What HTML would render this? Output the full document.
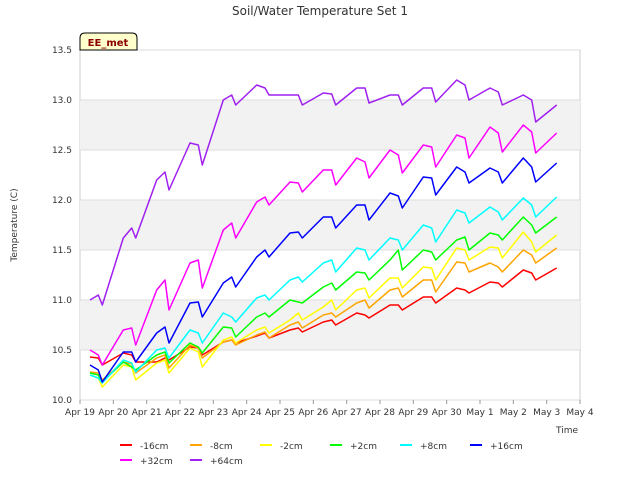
<!DOCTYPE html>
<html><head><meta charset="utf-8"><style>
body{margin:0;background:#fff;}
svg{display:block;font-family:"DejaVu Sans","Liberation Sans",sans-serif;}
</style></head><body>
<svg id="chart" width="640" height="480" viewBox="0 0 640 480" xmlns="http://www.w3.org/2000/svg">
<rect width="640" height="480" fill="#fff"/>
<text x="320" y="15" text-anchor="middle" font-size="12" fill="#333">Soil/Water Temperature Set 1</text>
<g id="plot"></g>
<text x="17" y="225" text-anchor="middle" font-size="9" fill="#333" transform="rotate(-90 17 225)">Temperature (C)</text>
<text x="578" y="433" text-anchor="end" font-size="9" fill="#333">Time</text>
<g>
<path d="M80,50 L80,38 Q80,33 85,33 L132,33 Q137,33 137,38 L137,50 Z" fill="#ffffcc" stroke="#000" stroke-width="1"/>
<text x="108" y="46" text-anchor="middle" font-size="10" font-weight="bold" fill="#8b0000">EE_met</text>
</g>
<g id="legend"></g>
</svg>
<script>
const t = [0.3,0.55,0.67, 1.3,1.55,1.67, 2.3,2.55,2.67, 3.3,3.55,3.67, 4.3,4.55,4.67, 5.3,5.55,5.67, 6.3,6.55,6.67, 7.3,7.55,7.67, 8.3,8.55,8.67, 9.3,9.55,9.67, 10.3,10.55,10.67, 11.3,11.55,11.67, 12.3,12.55,12.67, 13.3,13.55,13.67, 14.3];
const seriesNames = ["-16cm","-8cm","-2cm","+2cm","+8cm","+16cm","+32cm","+64cm"];
const seriesColors = ["#ff0000","#ffa500","#ffff00","#00ff00","#00ffff","#0000ff","#ff00ff","#a020f0"];
const s16 = [10.43,10.42,10.35, 10.47,10.45,10.38, 10.38,10.42,10.4, 10.53,10.52,10.45, 10.58,10.6,10.57, 10.64,10.67,10.62, 10.7,10.72,10.68, 10.78,10.8,10.75, 10.87,10.85,10.82, 10.95,10.95,10.9, 11.03,11.03,10.97, 11.12,11.1,11.07, 11.18,11.17,11.13, 11.3,11.27,11.2, 11.32];
const s8 = [10.28,10.27,10.2, 10.38,10.36,10.27, 10.42,10.45,10.32, 10.55,10.52,10.42, 10.58,10.6,10.55, 10.65,10.68,10.62, 10.75,10.78,10.72, 10.85,10.87,10.83, 10.97,11.0,10.92, 11.1,11.12,11.03, 11.2,11.2,11.08, 11.38,11.37,11.28, 11.37,11.33,11.28, 11.5,11.45,11.37, 11.52];
const s2n = [10.25,10.22,10.13, 10.35,10.33,10.2, 10.37,10.4,10.27, 10.52,10.48,10.33, 10.6,10.63,10.57, 10.7,10.73,10.67, 10.8,10.87,10.8, 10.93,11.0,10.9, 11.1,11.12,11.02, 11.22,11.22,11.12, 11.33,11.32,11.2, 11.52,11.5,11.4, 11.53,11.52,11.42, 11.68,11.58,11.48, 11.65];
const s2p = [10.27,10.25,10.18, 10.38,10.33,10.3, 10.45,10.48,10.37, 10.57,10.53,10.47, 10.73,10.72,10.63, 10.83,10.87,10.83, 11.0,10.98,10.97, 11.13,11.17,11.1, 11.28,11.27,11.2, 11.4,11.5,11.3, 11.5,11.48,11.4, 11.6,11.63,11.5, 11.67,11.65,11.6, 11.83,11.75,11.67, 11.83];
const s8p = [10.25,10.22,10.17, 10.4,10.37,10.28, 10.5,10.52,10.42, 10.7,10.67,10.57, 10.87,10.83,10.78, 11.02,11.05,11.0, 11.2,11.23,11.18, 11.37,11.4,11.28, 11.52,11.5,11.4, 11.62,11.6,11.5, 11.75,11.72,11.58, 11.9,11.87,11.77, 11.93,11.88,11.8, 12.02,11.95,11.83, 12.03];
const s16p = [10.35,10.3,10.18, 10.48,10.48,10.38, 10.67,10.73,10.57, 10.97,10.98,10.83, 11.17,11.23,11.13, 11.43,11.5,11.43, 11.67,11.68,11.62, 11.83,11.83,11.72, 11.95,11.95,11.8, 12.07,12.04,11.92, 12.23,12.22,12.05, 12.33,12.28,12.17, 12.32,12.28,12.17, 12.42,12.33,12.18, 12.37];
const s32 = [10.5,10.45,10.35, 10.7,10.72,10.55, 11.1,11.2,10.9, 11.37,11.4,11.12, 11.7,11.77,11.62, 11.98,12.03,11.95, 12.18,12.17,12.08, 12.3,12.3,12.15, 12.42,12.38,12.22, 12.5,12.45,12.27, 12.55,12.53,12.33, 12.65,12.62,12.42, 12.73,12.67,12.48, 12.75,12.68,12.47, 12.67];
const s64 = [11.0,11.05,10.95, 11.62,11.72,11.62, 12.2,12.28,12.1, 12.57,12.55,12.35, 13.0,13.05,12.95, 13.15,13.12,13.05, 13.05,13.05,12.95, 13.07,13.06,12.95, 13.12,13.12,12.97, 13.05,13.05,12.95, 13.12,13.12,12.98, 13.2,13.15,13.0, 13.12,13.08,12.95, 13.05,13.0,12.78, 12.95];
const seriesValues = [s16,s8,s2n,s2p,s8p,s16p,s32,s64];
const yTicks = [10.0,10.5,11.0,11.5,12.0,12.5,13.0,13.5];
const yTickLabels = ["10.0","10.5","11.0","11.5","12.0","12.5","13.0","13.5"];
const xTickLabels = ["Apr 19","Apr 20","Apr 21","Apr 22","Apr 23","Apr 24","Apr 25","Apr 26","Apr 27","Apr 28","Apr 29","Apr 30","May 1","May 2","May 3","May 4"];

const L=80,R=580,T=50,B=400,NS="http://www.w3.org/2000/svg";
const xS=d=>L+(d/15)*(R-L);
const yS=v=>B-(v-10)/3.5*(B-T);
const plot=document.getElementById('plot');
function mk(tag,attrs,parent){const e=document.createElementNS(NS,tag);for(const k in attrs)e.setAttribute(k,attrs[k]);parent.appendChild(e);return e;}
const bg=mk('rect',{x:L,y:T,width:R-L,height:B-T,fill:'#fff',stroke:'#ccc'},plot);


for(let i=0;i<yTicks.length-1;i++){
  if(i%2===1){
    const b=mk('rect',{x:L,y:yS(yTicks[i+1]),width:R-L,height:yS(yTicks[i])-yS(yTicks[i+1]),fill:'#f2f2f2'},plot);
    
    
  }
}
yTicks.forEach((v,i)=>{
  const g=mk('line',{x1:L,x2:R,y1:yS(v),y2:yS(v),stroke:'#ddd','stroke-width':1},plot);
  
  
  const tx=mk('text',{x:L-8,y:yS(v)+3,'text-anchor':'end','font-size':9,fill:'#333'},plot);
  tx.textContent=yTickLabels[i];
  
  
});
xTickLabels.forEach((lab,i)=>{
  mk('line',{x1:xS(i),x2:xS(i),y1:B,y2:B+4,stroke:'#999'},plot);
  const tx=mk('text',{x:xS(i),y:B+15,'text-anchor':'middle','font-size':9,fill:'#333'},plot);
  tx.textContent=lab;
  
  
});
seriesValues.forEach((vals,si)=>{
  const d=vals.map((v,i)=>(i?'L':'M')+xS(t[i]).toFixed(1)+','+yS(v).toFixed(1)).join(' ');
  const p=mk('path',{d:d,fill:'none',stroke:seriesColors[si],'stroke-width':1.5,'stroke-linejoin':'round'},plot);
  
  
});
const leg=document.getElementById('legend');
seriesNames.forEach((n,i)=>{
  const row=i<6?0:1, col=i<6?i:i-6;
  const x=120+col*70, y=445+row*15;
  const g=mk('g',{},leg);
  
  
  mk('line',{x1:x,x2:x+12,y1:y,y2:y,stroke:seriesColors[i],'stroke-width':2},g);
  const tx=mk('text',{x:x+20,y:y+4,'font-size':9,fill:'#333'},g);
  tx.textContent=n;
});
</script>
</body></html>
